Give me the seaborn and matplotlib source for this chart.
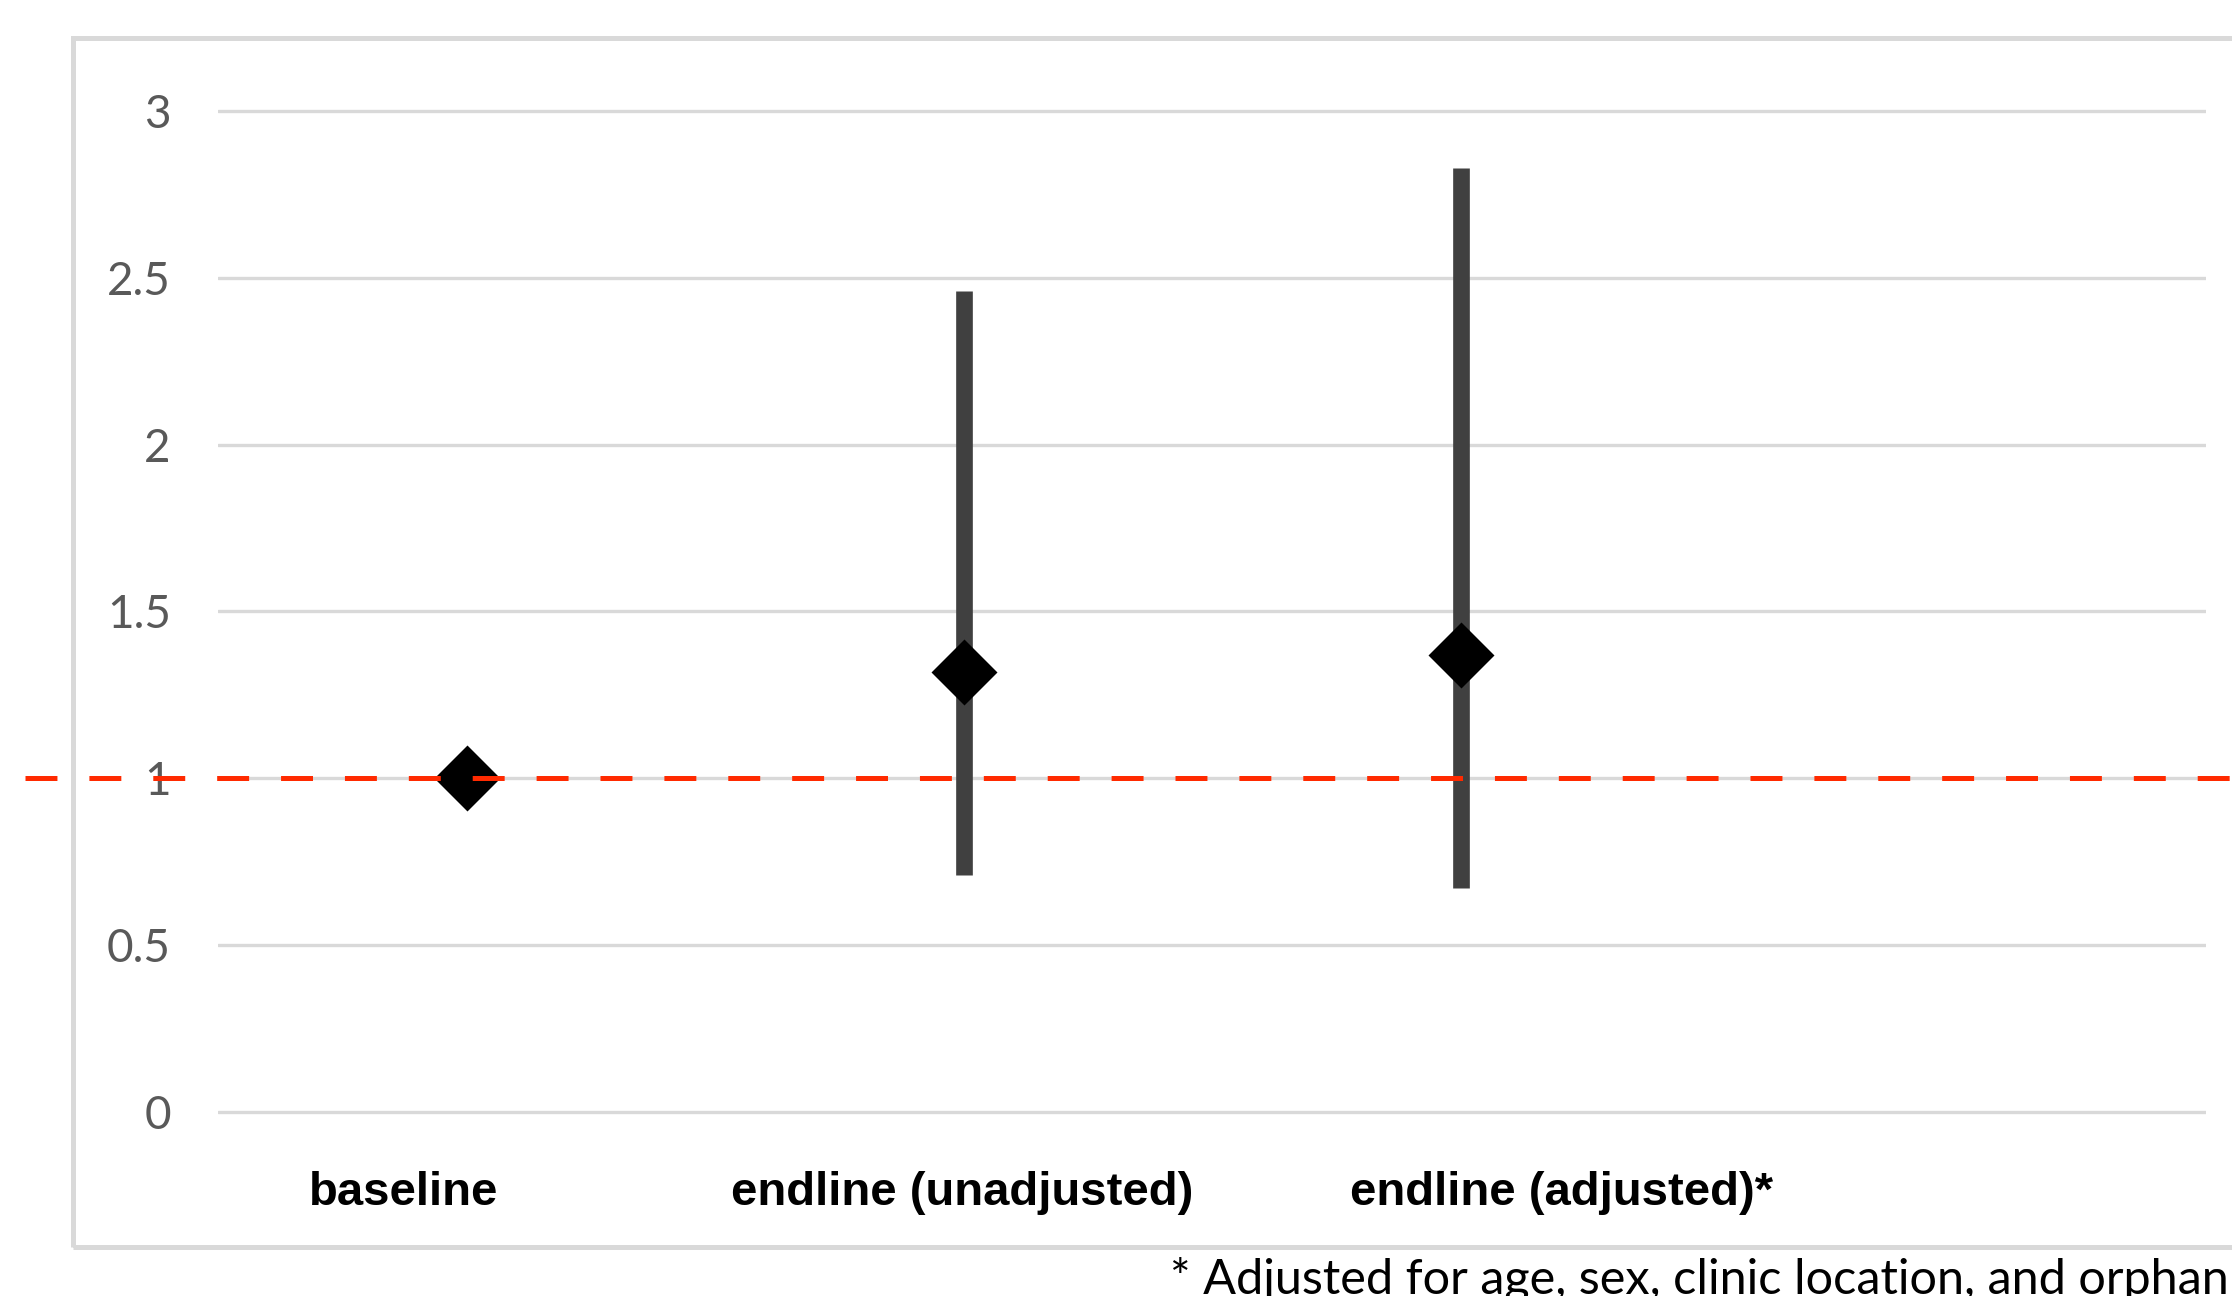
import numpy as np
import pandas as pd
import seaborn as sns
import matplotlib.pyplot as plt
from matplotlib.patches import Rectangle

# odds ratios
categories = ["baseline", "endline (unadjusted)", "endline (adjusted)*"]
estimate = [1.0, 1.32, 1.37]
ci_low = [np.nan, 0.71, 0.67]
ci_high = [np.nan, 2.46, 2.83]
ytick_values = [0, 0.5, 1, 1.5, 2, 2.5, 3]
ytick_labels = ["0", "0.5", "1", "1.5", "2", "2.5", "3"]
footnote = "* Adjusted for age, sex, clinic location, and orphan status"

df = pd.DataFrame({"group": categories, "OR": estimate, "lo": ci_low, "hi": ci_high})

sns.set_style("white")
plt.rcParams["lines.scale_dashes"] = False

W, H = 2232, 1296
fig = plt.figure(figsize=(W / 100, H / 100), dpi=100)
fig.patch.set_facecolor("white")

# plot area in pixel terms of the reference
px_unit = (1112 - 111) / 3.0
y_bot = 1112 + 0.05 * px_unit
y_top = 111 - 0.05 * px_unit
ax = fig.add_axes([218 / W, 1 - y_bot / H, (2206 - 218) / W, (y_bot - y_top) / H])

# outer chart frame (light grey, runs off the right edge)
frame = Rectangle((73 / W, 1 - 1247 / H), 1.2, (1247 - 38) / H, transform=fig.transFigure,
                  fill=False, edgecolor="#D9D9D9", linewidth=3.6, clip_on=False, zorder=0)
fig.patches.append(frame)

# confidence intervals
xpos = np.arange(len(categories))
ax.vlines(xpos, df["lo"], df["hi"], color="#404040", linewidth=12, capstyle="butt", zorder=3)

# point estimates
sns.pointplot(data=df, x="group", y="OR", order=categories, errorbar=None,
              linestyle="none", marker="D", markersize=32, color="black", ax=ax, zorder=4)

# reference line at OR = 1
ax.axhline(1, xmin=(25 - 218) / (2206 - 218), xmax=1.02, color="#FF2A00", linewidth=3.6,
           linestyle=(0, (23, 23)), clip_on=False, zorder=5)

ax.set_xlim(-0.5, 3.5)
ax.set_ylim(-0.05, 3.05)
ax.set_yticks(ytick_values)
ax.set_yticklabels(ytick_labels, fontfamily="Lato", fontsize=33, color="#595959")
ax.set_xticks([])
ax.set_xlabel("")
ax.set_ylabel("")
ax.tick_params(axis="y", length=0, pad=34)
ax.grid(axis="y", color="#D9D9D9", linewidth=2.4, zorder=0)
ax.set_axisbelow(True)
for s in ax.spines.values():
    s.set_visible(False)

# category labels sit as separate text boxes under the plot
label_x = [404, 962, 1562]
for lab, lx in zip(categories, label_x):
    fig.text(lx / W, 1 - 1205 / H, lab, ha="center", va="baseline",
             fontfamily="Liberation Sans", fontweight="bold", fontsize=34, color="black")

fig.text(1170 / W, 1 - 1294 / H, footnote, ha="left", va="baseline",
         fontfamily="Lato", fontsize=35, color="black")

plt.savefig("out.png", dpi=100)
